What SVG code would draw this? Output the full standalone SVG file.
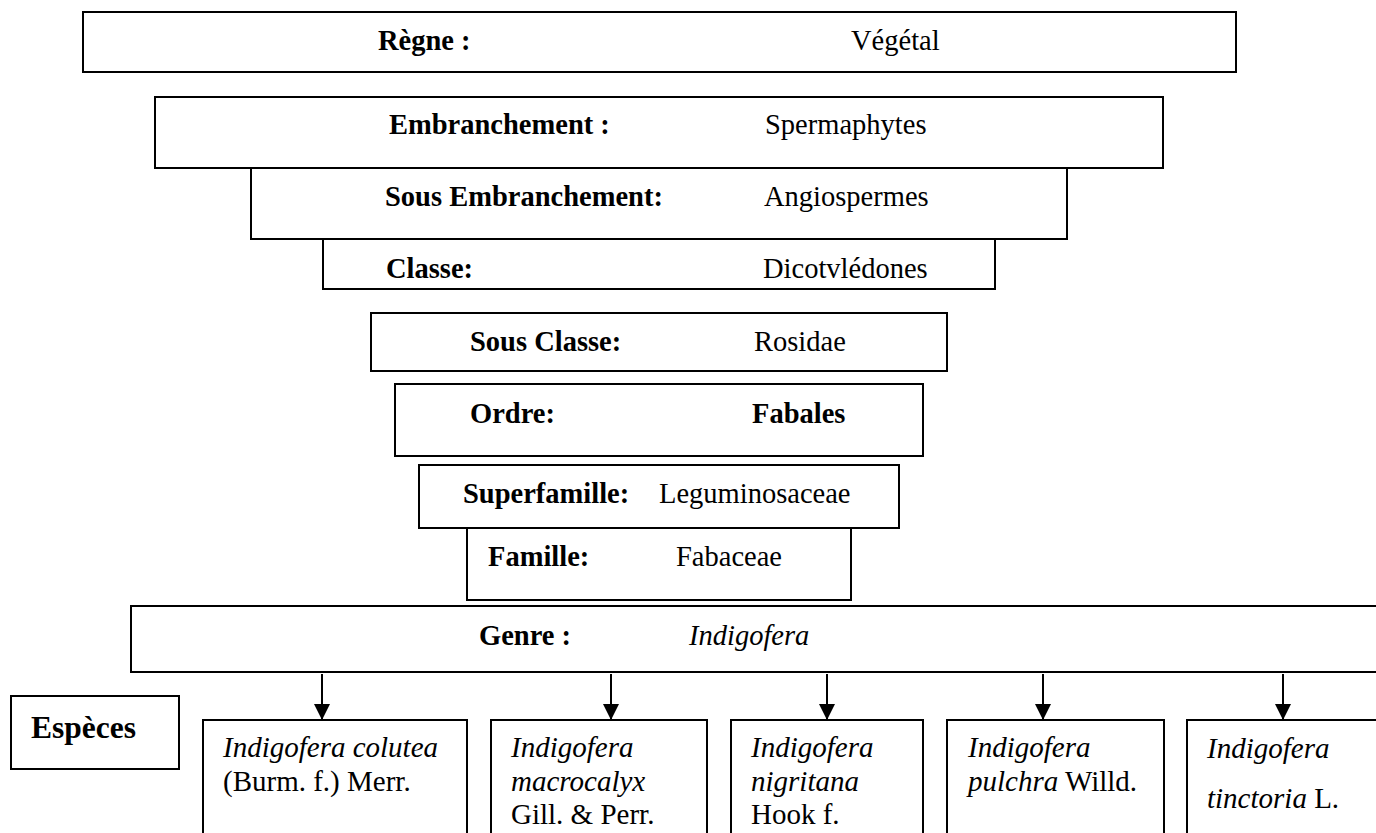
<svg xmlns="http://www.w3.org/2000/svg" width="1376" height="833" viewBox="0 0 1376 833">
<defs>
<marker id="ah" viewBox="0 0 16 16" refX="16" refY="8" markerWidth="16" markerHeight="16" markerUnits="userSpaceOnUse" orient="auto"><path d="M0,0 L16,8 L0,16 z" fill="#000"/></marker>
<style>
rect{fill:#fff;stroke:#000;stroke-width:2}
text{font-family:"Liberation Serif","Times New Roman",serif;font-size:28.5px;fill:#000}
.b{font-weight:bold}
.i{font-style:italic}
.sp{font-size:29px}
line{stroke:#000;stroke-width:2}
</style>
</defs>
<rect width="1376" height="833" fill="#fff" style="stroke:none"/>
<g id="regne"><rect x="83" y="12" width="1153" height="60"/><text class="b" x="378" y="50">Règne :</text><text x="851" y="50">Végétal</text></g>
<g id="embranchement"><rect x="155" y="97" width="1008" height="71"/><text class="b" x="389" y="134">Embranchement :</text><text x="765" y="134">Spermaphytes</text></g>
<g id="sous-embranchement"><rect x="251" y="168" width="816" height="71"/><text class="b" x="385" y="206">Sous Embranchement:</text><text x="764" y="206">Angiospermes</text></g>
<g id="classe"><rect x="323" y="239" width="672" height="50"/><text class="b" x="386" y="278">Classe:</text><text x="763" y="278">Dicotvlédones</text></g>
<g id="sous-classe"><rect x="371" y="313" width="576" height="58"/><text class="b" x="470" y="351">Sous Classe:</text><text x="754" y="351">Rosidae</text></g>
<g id="ordre"><rect x="395" y="384" width="528" height="72"/><text class="b" x="470" y="423">Ordre:</text><text class="b" x="752" y="423">Fabales</text></g>
<g id="superfamille"><rect x="419" y="465" width="480" height="63"/><text class="b" x="463" y="503">Superfamille:</text><text x="659" y="503">Leguminosaceae</text></g>
<g id="famille"><rect x="467" y="528" width="384" height="72"/><text class="b" x="488" y="566">Famille:</text><text x="676" y="566">Fabaceae</text></g>
<g id="genre"><rect x="131" y="606" width="1260" height="66"/><text class="b" x="479" y="645">Genre :</text><text class="i" x="689" y="645">Indigofera</text></g>
<g id="especes"><rect x="11" y="696" width="168" height="73"/><text class="b" x="31" y="738" style="font-size:31.5px">Espèces</text></g>
<g id="connectors">
<line x1="322" y1="674" x2="322" y2="720" marker-end="url(#ah)"/>
<line x1="611" y1="674" x2="611" y2="720" marker-end="url(#ah)"/>
<line x1="827" y1="674" x2="827" y2="720" marker-end="url(#ah)"/>
<line x1="1043" y1="674" x2="1043" y2="720" marker-end="url(#ah)"/>
<line x1="1283" y1="674" x2="1283" y2="720" marker-end="url(#ah)"/>
</g>
<g id="sp1"><rect x="203" y="720" width="264" height="140"/><text class="sp i" x="223" y="757">Indigofera colutea</text><text class="sp" x="223" y="791">(Burm. f.) Merr.</text></g>
<g id="sp2"><rect x="491" y="720" width="216" height="140"/><text class="sp i" x="511" y="757">Indigofera</text><text class="sp i" x="511" y="791">macrocalyx</text><text class="sp" x="511" y="824">Gill. &amp; Perr.</text></g>
<g id="sp3"><rect x="731" y="720" width="192" height="140"/><text class="sp i" x="751" y="757">Indigofera</text><text class="sp i" x="751" y="791">nigritana</text><text class="sp" x="751" y="824">Hook f.</text></g>
<g id="sp4"><rect x="947" y="720" width="217" height="140"/><text class="sp i" x="968" y="757">Indigofera</text><text class="sp" x="968" y="791"><tspan class="i">pulchra</tspan> Willd.</text></g>
<g id="sp5"><rect x="1187" y="720" width="210" height="140"/><text class="sp i" x="1207" y="758">Indigofera</text><text class="sp" x="1207" y="808"><tspan class="i">tinctoria</tspan> L.</text></g>
</svg>
